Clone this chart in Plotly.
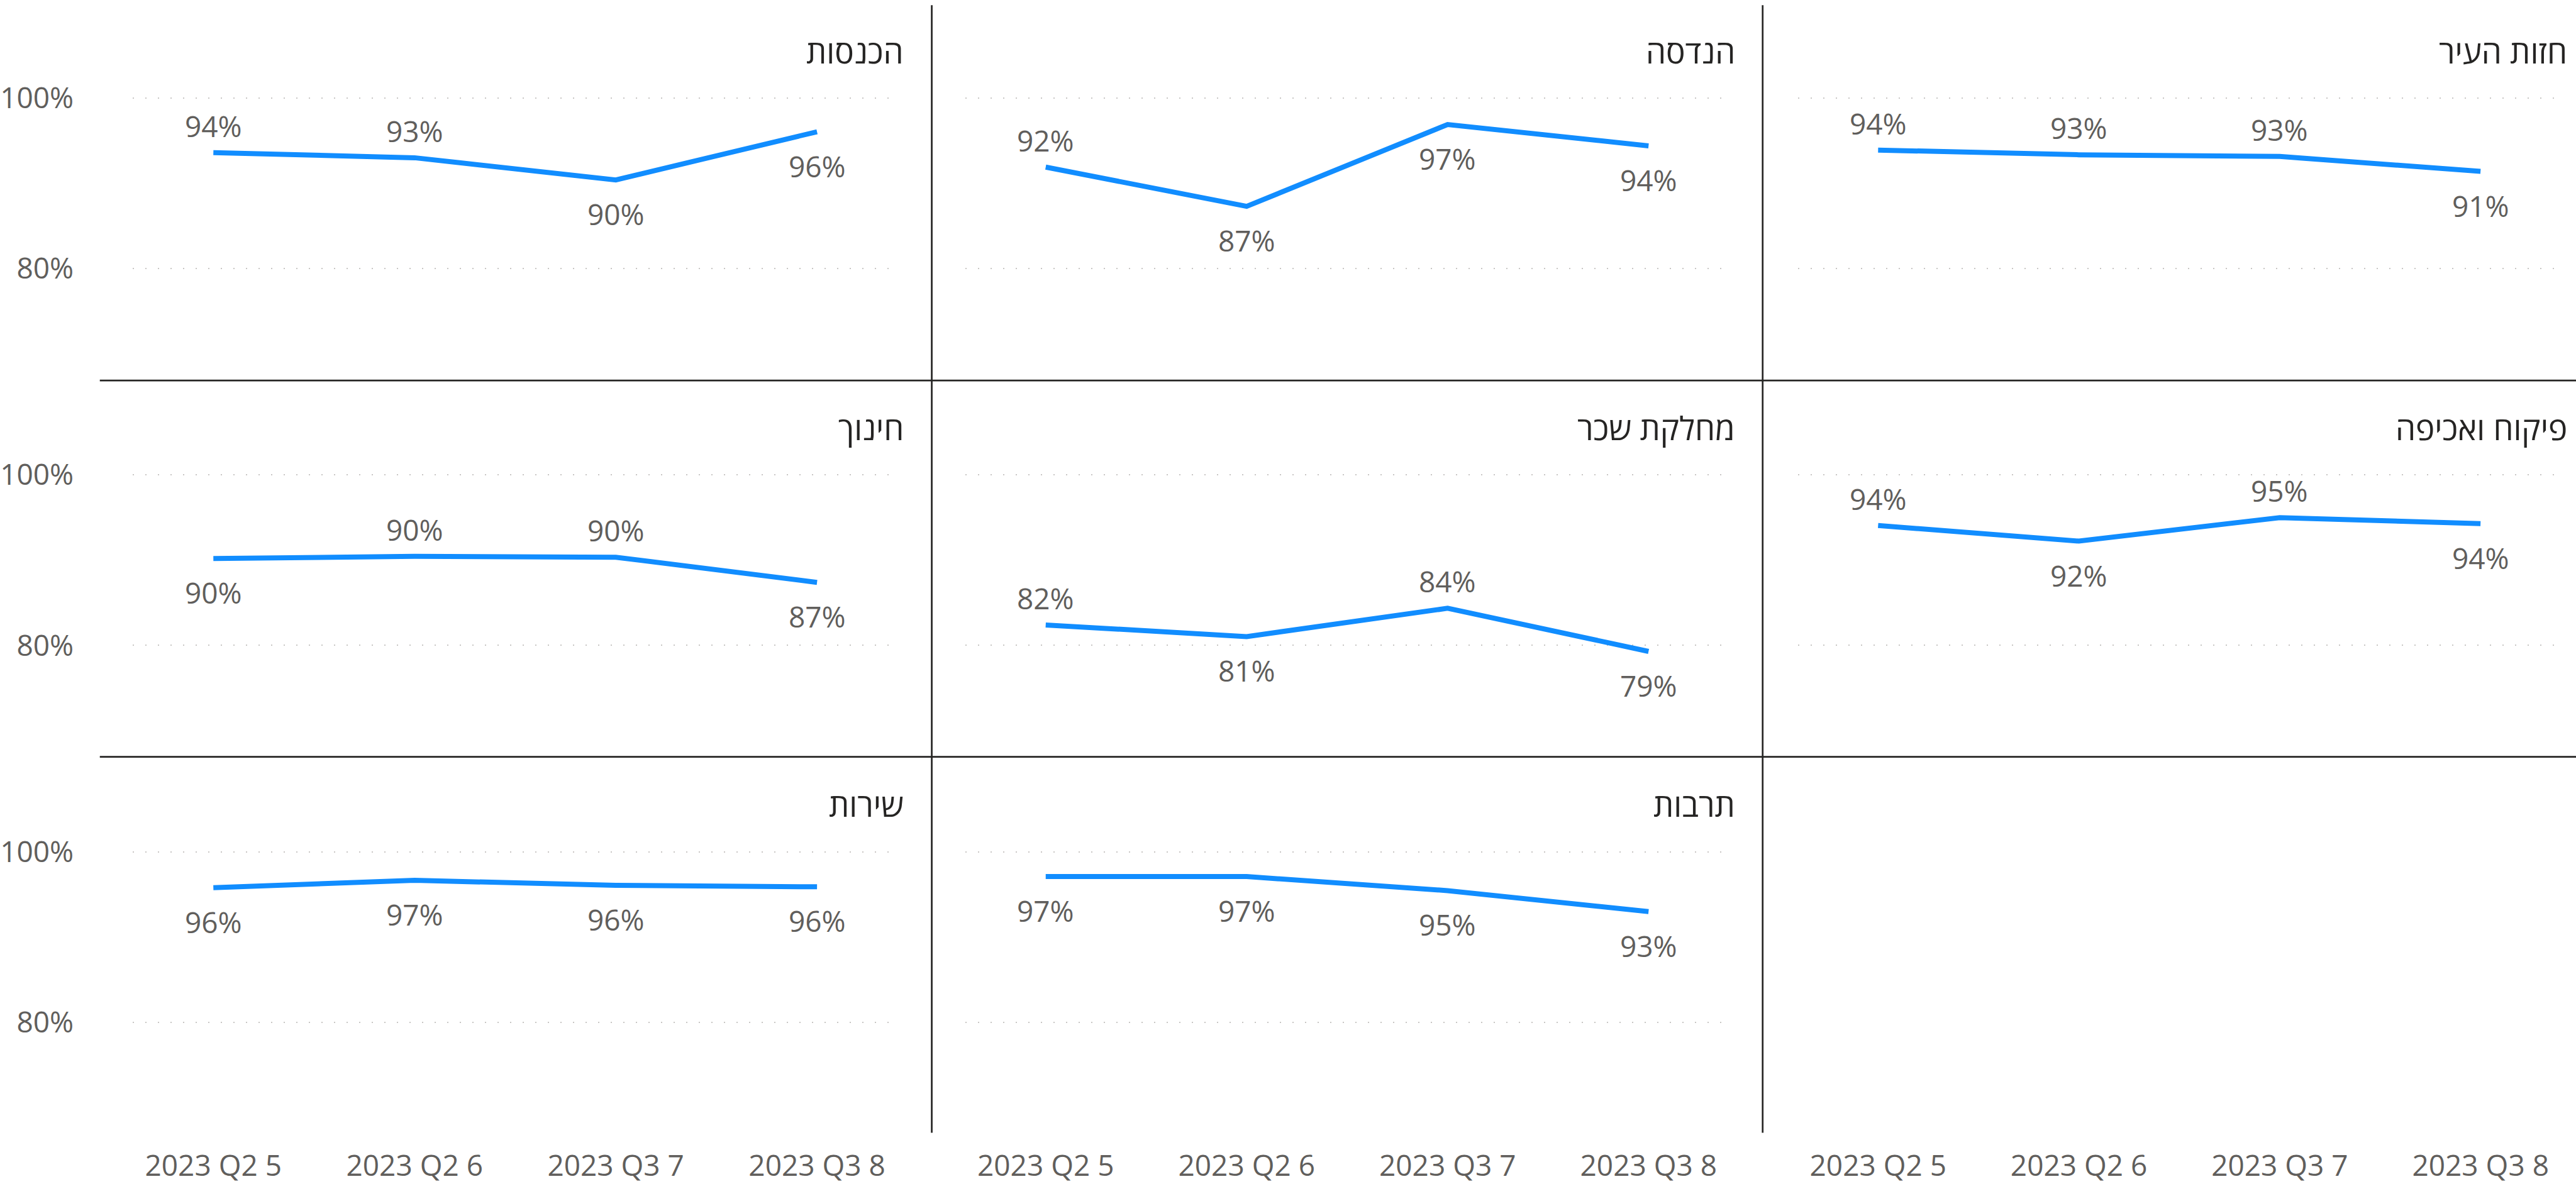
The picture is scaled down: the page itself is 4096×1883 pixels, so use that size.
import plotly.graph_objects as go

# ---------------- data ----------------
quarters = ["2023 Q2 5", "2023 Q2 6", "2023 Q3 7", "2023 Q3 8"]

departments = ["חזות העיר", "הנדסה", "הכנסות",
               "פיקוח ואכיפה", "מחלקת שכר", "חינוך",
               "תרבות", "שירות"]

chazut_hair = [93.9, 93.35, 93.15, 91.4]
handasa = [91.9, 87.3, 96.9, 94.4]
hachnasot = [93.6, 93.0, 90.4, 96.05]
pikuach = [94.07, 92.24, 95.0, 94.3]
sachar = [82.4, 81.04, 84.36, 79.3]
chinuch = [90.2, 90.45, 90.35, 87.4]
tarbut = [97.1, 97.1, 95.45, 93.0]
sherut = [95.8, 96.66, 96.07, 95.9]

series = [chazut_hair, handasa, hachnasot, pikuach, sachar, chinuch, tarbut, sherut]

y_tick_vals = [80, 100]
y_tick_text = ["80%", "100%"]

# ---------------- style / layout ----------------
# grid cell (row, col) of each panel; col 0 = leftmost
cells = [(0, 2), (0, 1), (0, 0),
         (1, 2), (1, 1), (1, 0),
         (2, 1), (2, 0)]
empty_cell = (2, 2)

# label placement per panel (1 = above the line, -1 = below)
label_side = [
    [1, 1, 1, -1],
    [1, -1, -1, -1],
    [1, 1, -1, -1],
    [1, -1, 1, -1],
    [1, -1, 1, -1],
    [-1, 1, 1, -1],
    [-1, -1, -1, -1],
    [-1, -1, -1, -1],
]

W, H = 4096, 1883
S = W / 4981.0

LINE_COLOR = "#118DFF"
TEXT_GRAY = "#605E5C"
DARK = "#252423"
GRID = "#C8C6C4"
FONT = "Open Sans, Noto Sans, DejaVu Sans, sans-serif"
FS = 46
TITLE_FS = 51

col_px = [(250, 1719), (1862, 3329), (3474, 4940)]     # reference px
row_top = [10, 742, 1474]
row_h = 729
px_per_pct = 16.555
y_top = 100 + 180.5 / px_per_pct
y_bot = 100 - (row_h - 180.5) / px_per_pct
title_cy = [99, 831, 1562]


def fx(px):
    return px * S / W


def fy(px):
    return 1 - px * S / H


fig = go.Figure()
annotations = []
layout_axes = {}

panels = list(range(len(series))) + [None]
for idx, k in enumerate(panels):
    r, c = cells[k] if k is not None else empty_cell
    n = idx + 1
    xa = "x" if n == 1 else f"x{n}"
    ya = "y" if n == 1 else f"y{n}"
    xname = "xaxis" if n == 1 else f"xaxis{n}"
    yname = "yaxis" if n == 1 else f"yaxis{n}"
    has_data = k is not None

    x0, x1 = col_px[c]
    layout_axes[xname] = dict(
        domain=[fx(x0), fx(x1)],
        anchor=ya,
        type="category",
        categoryarray=quarters,
        range=[-0.4, 3.37],
        showgrid=False, zeroline=False, showline=False,
        showticklabels=(r == 2),
        ticks="outside", ticklen=10, tickcolor="rgba(0,0,0,0)",
        tickfont=dict(family=FONT, size=FS, color=TEXT_GRAY),
        fixedrange=True,
    )
    layout_axes[yname] = dict(
        domain=[fy(row_top[r] + row_h), fy(row_top[r])],
        anchor=xa,
        range=[y_bot, y_top],
        tickvals=y_tick_vals,
        ticktext=y_tick_text,
        showgrid=has_data,
        gridcolor=GRID, gridwidth=2, griddash="2px,18px",
        zeroline=False, showline=False,
        showticklabels=(c == 0 and has_data),
        ticks="outside", ticklen=84, tickcolor="rgba(0,0,0,0)",
        tickfont=dict(family=FONT, size=FS, color=TEXT_GRAY),
        fixedrange=True,
    )

    if has_data:
        vals = series[k]
        fig.add_trace(go.Scatter(
            x=quarters, y=vals, mode="lines",
            line=dict(color=LINE_COLOR, width=8),
            xaxis=xa, yaxis=ya, hoverinfo="skip", showlegend=False,
        ))
        for j, v in enumerate(vals):
            side = label_side[k][j]
            annotations.append(dict(
                x=quarters[j], y=v, xref=xa, yref=ya,
                text=f"{v:.0f}%", showarrow=False,
                xanchor="center", yanchor="middle",
                yshift=43 if side > 0 else -54,
                font=dict(family=FONT, size=FS, color=TEXT_GRAY),
            ))
        annotations.append(dict(
            x=fx(x1 + 26), y=fy(title_cy[r]), xref="paper", yref="paper",
            text=departments[k], showarrow=False,
            xanchor="right", yanchor="middle",
            font=dict(family=FONT, size=TITLE_FS, color=DARK),
        ))
    else:
        fig.add_trace(go.Scatter(
            x=quarters, y=[None] * len(quarters), mode="lines",
            xaxis=xa, yaxis=ya, hoverinfo="skip", showlegend=False,
        ))

shapes = []
for ypx in (739, 1470):
    shapes.append(dict(type="line", xref="paper", yref="paper",
                       x0=fx(186), x1=1.0, y0=fy(ypx), y1=fy(ypx),
                       line=dict(color=DARK, width=2.7)))
for xpx in (1797, 3406):
    shapes.append(dict(type="line", xref="paper", yref="paper",
                       x0=fx(xpx), x1=fx(xpx), y0=fy(10), y1=fy(2200),
                       line=dict(color=DARK, width=2.7)))

fig.update_layout(
    width=W, height=H,
    margin=dict(l=0, r=0, t=0, b=0),
    paper_bgcolor="white", plot_bgcolor="white",
    showlegend=False,
    annotations=annotations,
    shapes=shapes,
    **layout_axes,
)

fig.write_html(
    "out.html",
    config={"displayModeBar": False},
    post_script="document.body.style.margin='0';document.body.style.overflow='hidden';",
)
